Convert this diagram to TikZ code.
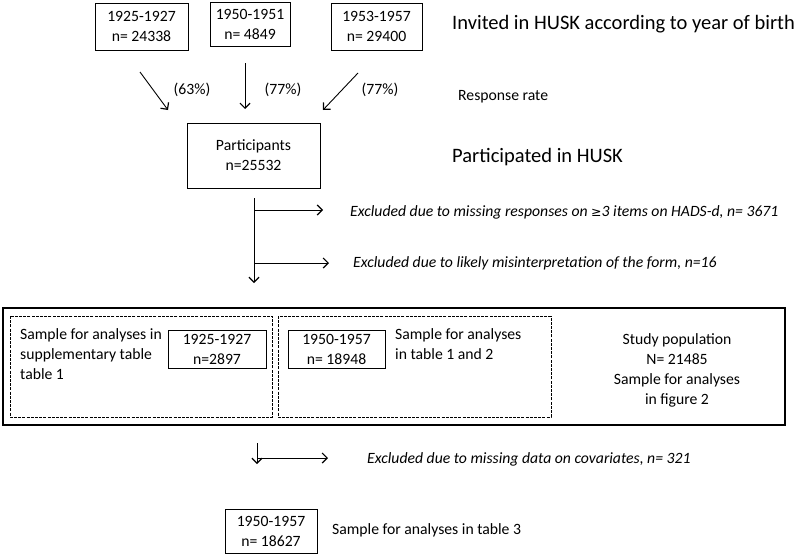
\documentclass[tikz,border=0pt]{standalone}
\usepackage{fontspec}
\setmainfont{Carlito}
\usetikzlibrary{arrows.meta}
\begin{document}
\begin{tikzpicture}[x=1pt,y=-1pt,
  font=\fontsize{15.7}{20}\selectfont,
  box/.style={draw, line width=1pt, inner sep=0pt, align=center},
  dbox/.style={draw, line width=0.8pt, dash pattern=on 3pt off 1.2pt},
  arr/.style={line width=0.9pt, -{Straight Barb[length=5pt,width=10pt,line width=1.2pt]}},
  ln/.style={line width=0.9pt},
  big/.style={font=\fontsize{20.5}{24}\selectfont},
  lbl/.style={inner sep=0pt, anchor=west},
  exc/.style={inner sep=0pt, anchor=west, font=\fontsize{15.7}{20}\selectfont\itshape}]
\useasboundingbox (0,0) rectangle (798,557);
% top boxes
\node[box, minimum width=93pt, minimum height=47pt] (b1) at (141.5,26.5) {1925-1927\\n= 24338};
\node[box, minimum width=80pt, minimum height=44pt] (b2) at (250,24.5) {1950-1951\\n= 4849};
\node[box, minimum width=91pt, minimum height=47pt] (b3) at (376.5,26.5) {1953-1957\\n= 29400};
\node[lbl, big] (t1) at (452,24) {Invited in HUSK according to year of birth};
% arrows to participants
\coordinate (a1s) at (140,72); \coordinate (a1e) at (168,110);
\coordinate (a2s) at (245,63); \coordinate (a2e) at (245,109);
\coordinate (a3s) at (358,73); \coordinate (a3e) at (323,110);
\draw[arr] (a1s) -- (a1e);
\draw[arr] (a2s) -- (a2e);
\draw[arr] (a3s) -- (a3e);
\node (r1) at (192,90) {(63\%)};
\node (r2) at (283,90) {(77\%)};
\node (r3) at (380,90) {(77\%)};
\node[lbl] (rr) at (458,97) {Response rate};
% participants
\node[box, minimum width=133pt, minimum height=65pt] (part) at (253.5,155.5) {Participants\\n=25532};
\node[lbl, big] (t2) at (452,157) {Participated in HUSK};
% exclusions
\coordinate (v1s) at (254,198); \coordinate (v1e) at (254,283);
\coordinate (h1s) at (254,210); \coordinate (h1e) at (323,210);
\coordinate (h2s) at (254,263); \coordinate (h2e) at (329,263);
\draw[arr] (v1s) -- (v1e);
\draw[arr] (h1s) -- (h1e);
\draw[arr] (h2s) -- (h2e);
\node[exc] (e1) at (350,212) {Excluded due to missing responses on {\fontspec{DejaVu Sans}\fontsize{12.5}{14}\selectfont ≥}3 items on HADS-d, n= 3671};
\node[exc] (e2) at (353,263) {Excluded due to likely misinterpretation of the form, n=16};
% study population box
\draw[line width=1.4pt] (3,308) rectangle (785,425);
\draw[dbox] (10,316) rectangle (272,417);
\draw[dbox] (278,316) rectangle (551,417);
\node[box, minimum width=98pt, minimum height=38pt] (i1) at (217,349) {1925-1927\\n=2897};
\node[box, minimum width=97pt, minimum height=38pt] (i2) at (336.5,349) {1950-1957\\n= 18948};
\node[inner sep=0pt, anchor=north west, align=left] (s1) at (20,328) {Sample for analyses in\\supplementary table\\table 1};
\node[inner sep=0pt, anchor=north west, align=left] (s2) at (395,328) {Sample for analyses\\in table 1 and 2};
\node[inner sep=0pt, align=center] (sp) at (677,370) {Study population\\N= 21485\\Sample for analyses\\in figure 2};
% final exclusion
\coordinate (v2s) at (257,443); \coordinate (v2e) at (257,464);
\coordinate (h3s) at (257,458); \coordinate (h3e) at (328,458);
\draw[arr] (v2s) -- (v2e);
\draw[arr] (h3s) -- (h3e);
\node[exc] (e3) at (367,459) {Excluded due to missing data on covariates, n= 321};
\node[box, minimum width=92pt, minimum height=44pt] (fin) at (271,531) {1950-1957\\n= 18627};
\node[lbl] (t3) at (332,530) {Sample for analyses in table 3};
\end{tikzpicture}
\end{document}
